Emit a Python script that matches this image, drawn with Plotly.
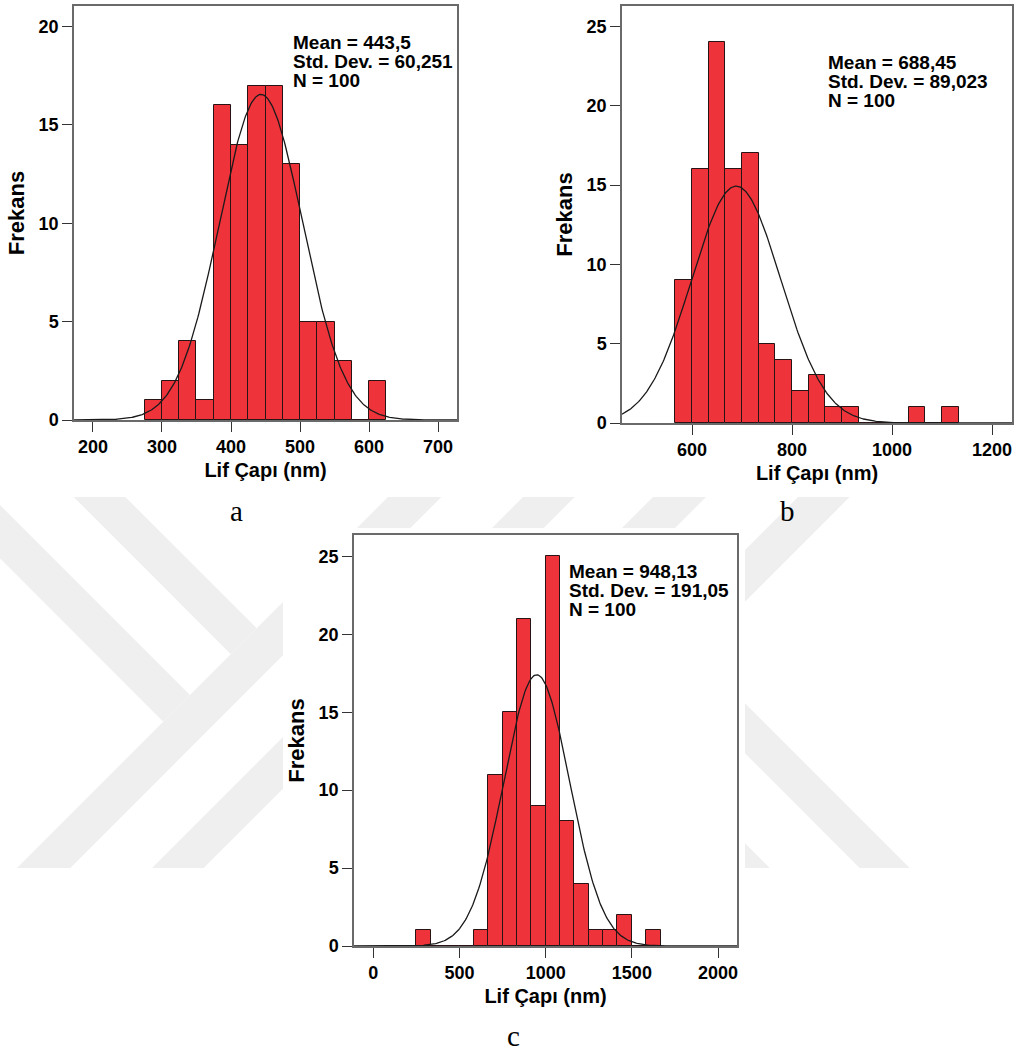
import numpy as np
import plotly.graph_objects as go

W, H = 1019, 1057

# ---------------- data ----------------
a_bin_start = 275.0
a_bin_width = 25.0
a_counts = [1, 2, 4, 1, 16, 14, 17, 17, 13, 5, 5, 3, 0, 2]
a_mean, a_sd, a_n = 443.5, 60.251, 100
a_stats = ["Mean = 443,5", "Std. Dev. = 60,251", "N = 100"]

b_bin_start = 566.667
b_bin_width = 33.333
b_counts = [9, 16, 24, 16, 17, 5, 4, 2, 3, 1, 1, 0, 0, 0, 1, 0, 1]
b_mean, b_sd, b_n = 688.45, 89.023, 100
b_stats = ["Mean = 688,45", "Std. Dev. = 89,023", "N = 100"]

c_bin_start = 250.0
c_bin_width = 83.333
c_counts = [1, 0, 0, 0, 1, 11, 15, 21, 9, 25, 8, 4, 1, 1, 2, 0, 1]
c_mean, c_sd, c_n = 948.13, 191.05, 100
c_stats = ["Mean = 948,13", "Std. Dev. = 191,05", "N = 100"]

a_xticks = [200, 300, 400, 500, 600, 700]
b_xticks = [600, 800, 1000, 1200]
c_xticks = [0, 500, 1000, 1500, 2000]
a_yticks = [0, 5, 10, 15, 20]
b_yticks = [0, 5, 10, 15, 20, 25]
c_yticks = [0, 5, 10, 15, 20, 25]

x_title = "Lif Çapı (nm)"
y_title = "Frekans"
panel_labels = ["a", "b", "c"]

# ---------------- styling ----------------
SANS = "Liberation Sans, Arial, sans-serif"
SERIF = "Liberation Serif, Times New Roman, serif"
BAR_FILL = "rgb(239,51,59)"
BAR_LINE = "rgb(40,20,20)"
FRAME = "#6a6a6a"


def px(x):
    return x / W


def py(y):
    return 1 - y / H


panels = [
    dict(counts=a_counts, start=a_bin_start, bw=a_bin_width, mean=a_mean, sd=a_sd, n=a_n,
         stats=a_stats, xticks=a_xticks, yticks=a_yticks,
         xr=[172.5, 727.5], yr=[0, 21.05],
         dom_x=[74, 457], dom_y=[6, 420],
         stat_x=291, stat_base=[49.5, 68.5, 87.5], label=(236, 511)),
    dict(counts=b_counts, start=b_bin_start, bw=b_bin_width, mean=b_mean, sd=b_sd, n=b_n,
         stats=b_stats, xticks=b_xticks, yticks=b_yticks,
         xr=[460, 1240], yr=[0, 26.3],
         dom_x=[622, 1012], dom_y=[6, 423],
         stat_x=826, stat_base=[69, 88, 107], label=(787, 511)),
    dict(counts=c_counts, start=c_bin_start, bw=c_bin_width, mean=c_mean, sd=c_sd, n=c_n,
         stats=c_stats, xticks=c_xticks, yticks=c_yticks,
         xr=[-112, 2110], yr=[0, 26.37],
         dom_x=[354, 737], dom_y=[535, 946],
         stat_x=567, stat_base=[578, 597, 616], label=(513, 1036)),
]

fig = go.Figure()
annotations = []
layout_axes = {}

for i, p in enumerate(panels):
    k = "" if i == 0 else str(i + 1)
    xa, ya = "x" + k, "y" + k
    counts = np.array(p["counts"], dtype=float)
    centers = p["start"] + p["bw"] * (np.arange(len(counts)) + 0.5)
    fig.add_trace(go.Bar(
        x=centers, y=counts, width=p["bw"], xaxis=xa, yaxis=ya,
        marker=dict(color=BAR_FILL, line=dict(color=BAR_LINE, width=1)),
        showlegend=False, hoverinfo="x+y"))
    xs = np.linspace(p["xr"][0], p["xr"][1], 400)
    ys = p["n"] * p["bw"] / (p["sd"] * np.sqrt(2 * np.pi)) * np.exp(-0.5 * ((xs - p["mean"]) / p["sd"]) ** 2)
    fig.add_trace(go.Scatter(
        x=xs, y=ys, mode="lines", xaxis=xa, yaxis=ya,
        line=dict(color="#1a1a1a", width=1.3), showlegend=False, hoverinfo="skip"))

    common = dict(showline=True, linecolor=FRAME, linewidth=1.5, mirror=True,
                  ticks="outside", ticklen=10, tickwidth=1.2, tickcolor="#333333",
                  showgrid=False, zeroline=False, automargin=False,
                  tickfont=dict(family=SANS, size=18, color="black", weight="bold"))
    layout_axes["xaxis" + k] = dict(
        common, domain=[px(p["dom_x"][0]), px(p["dom_x"][1])], range=p["xr"],
        anchor=ya, tickvals=p["xticks"], ticktext=[str(v) for v in p["xticks"]],
        title=dict(text=x_title, standoff=7,
                   font=dict(family=SANS, size=20, color="black", weight="bold")))
    layout_axes["yaxis" + k] = dict(
        common, domain=[py(p["dom_y"][1]), py(p["dom_y"][0])], range=p["yr"],
        anchor=xa, tickvals=p["yticks"], ticktext=[str(v) for v in p["yticks"]],
        title=dict(text=y_title, standoff=8,
                   font=dict(family=SANS, size=22, color="black", weight="bold")))

    for line, base in zip(p["stats"], p["stat_base"]):
        annotations.append(dict(
            text=line, xref="paper", yref="paper", x=px(p["stat_x"]), y=py(base - 6.6),
            xanchor="left", yanchor="middle", showarrow=False,
            font=dict(family=SANS, size=19, color="black", weight="bold")))
    annotations.append(dict(
        text=panel_labels[i], xref="paper", yref="paper",
        x=px(p["label"][0]), y=py(p["label"][1]), xanchor="center", yanchor="middle",
        showarrow=False, font=dict(family=SERIF, size=29, color="black")))

# ---------------- faint background watermark (decorative) ----------------
WM = "#efefef"
wm_polys = [
    [(73.7, 497), (125.3, 497), (256.7, 628.3), (230.8, 654.2)],
    [(0, 505), (190, 695), (163.3, 721.7), (0, 558.3)],
    [(17, 868), (70.3, 868), (283, 655.3), (283, 602)],
    [(388, 497), (441.3, 497), (410.3, 528), (357, 528)],
    [(152, 868), (203.7, 868), (283, 788.7), (283, 737)],
    [(523, 497), (574.7, 497), (543.7, 528), (492, 528)],
    [(653, 497), (706, 497), (675, 528), (622, 528)],
    [(798, 497), (849.7, 497), (745, 601.7), (745, 550)],
    [(745, 703.3), (909.7, 868), (859.7, 868), (745, 753.3)],
    [(745, 843.3), (769.7, 868), (745, 868)],
]
shapes = []
for poly in wm_polys:
    path = "M " + " L ".join(f"{px(x):.5f},{py(y):.5f}" for x, y in poly) + " Z"
    shapes.append(dict(type="path", path=path, xref="paper", yref="paper",
                       fillcolor=WM, line=dict(width=0), layer="below"))

fig.update_layout(
    width=W, height=H, margin=dict(l=0, r=0, t=0, b=0),
    paper_bgcolor="white", plot_bgcolor="rgba(255,255,255,0)",
    bargap=0, annotations=annotations, shapes=shapes,
    font=dict(family=SANS, color="black"),
    **layout_axes)

fig.write_html("out.html")
